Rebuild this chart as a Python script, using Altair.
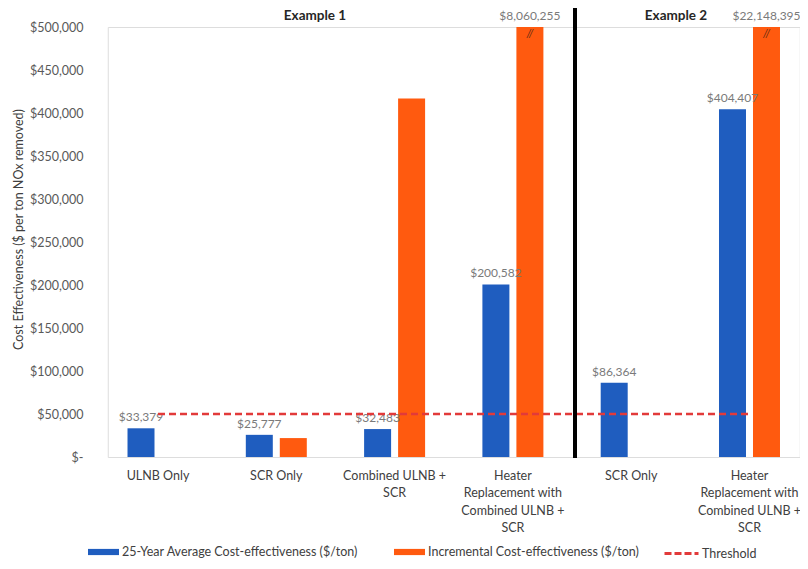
import json
import altair as alt
import pandas as pd

# ---------------- data ----------------
examples = ["Example 1", "Example 1", "Example 1", "Example 1", "Example 2", "Example 2"]
categories = [
    "ULNB Only",
    "SCR Only",
    "Combined ULNB + SCR",
    "Heater Replacement with Combined ULNB + SCR",
    "SCR Only",
    "Heater Replacement with Combined ULNB + SCR",
]
label_lines = [
    ["ULNB Only"],
    ["SCR Only"],
    ["Combined ULNB +", "SCR"],
    ["Heater", "Replacement with", "Combined ULNB +", "SCR"],
    ["SCR Only"],
    ["Heater", "Replacement with", "Combined ULNB +", "SCR"],
]
avg_values = [33379, 25777, 32483, 200582, 86364, 404407]
inc_values = [None, 22000, 417000, 8060255, None, 22148395]
threshold_values = [50000, 50000, 50000, 50000, 50000, 50000]
axis_max = 500000
y_ticks = [0, 50000, 100000, 150000, 200000, 250000, 300000, 350000, 400000, 450000, 500000]

series_names = [
    "25-Year Average Cost-effectiveness ($/ton)",
    "Incremental Cost-effectiveness ($/ton)",
]
threshold_name = "Threshold"
bar_colors = ["#1f5dbf", "#ff5a0f"]
threshold_color = "#e23a3a"
y_title = "Cost Effectiveness ($ per ton NOx removed)"

# ---------------- tables ----------------
keys = [f"{e}|{c}" for e, c in zip(examples, categories)]
rows = []
for k, a, b in zip(keys, avg_values, inc_values):
    for s, v in zip(series_names, [a, b]):
        if v is None:
            continue
        rows.append({"key": k, "series": s, "value": v,
                     "shown": min(v, axis_max), "clipped": v > axis_max})
bars_df = pd.DataFrame(rows)
thr_df = pd.DataFrame({"key": keys, "shown": threshold_values,
                       "name": [threshold_name] * len(keys)})
label_map = json.dumps(dict(zip(keys, label_lines)))

FONT = "Lato"

x_enc = alt.X(
    "key:N",
    title=None,
    scale=alt.Scale(domain=keys, paddingInner=0.4844, paddingOuter=0.167, round=False),
    axis=alt.Axis(labelExpr=f"{label_map}[datum.value]", labelAngle=0,
                  ticks=False, tickSize=0, domain=False, grid=False, labelLimit=0,
                  labelPadding=12, labelFont=FONT, labelFontSize=12.5,
                  labelLineHeight=17.5, labelColor="#404040"),
)
y_enc = alt.Y(
    "shown:Q",
    title=y_title,
    scale=alt.Scale(domain=[0, axis_max], nice=False),
    axis=alt.Axis(values=y_ticks, ticks=False, tickSize=0, domain=False, grid=False,
                  labelExpr="datum.value == 0 ? '$-\u00a0\u00a0' : format(datum.value, '$,')",
                  labelPadding=24.75, labelFont=FONT, labelFontSize=12.5, labelColor="#595959",
                  titleFont=FONT, titleFontSize=12.5, titleFontWeight="normal",
                  titleColor="#404040", titleX=-82.75, titleY=202, titleAlign="center"),
)
xoff_enc = alt.XOffset("series:N",
                       scale=alt.Scale(domain=series_names, paddingInner=0.206, paddingOuter=0,
                                       round=False))

bars = alt.Chart(bars_df).mark_bar().encode(
    x=x_enc, y=y_enc, xOffset=xoff_enc,
    color=alt.Color("series:N", scale=alt.Scale(domain=series_names, range=bar_colors),
                    legend=alt.Legend(title=None, orient="none", legendX=-19.75, legendY=509.5,
                                      direction="horizontal", labelLimit=400,
                                      symbolType="M-1,-0.2H1V0.2H-1Z", symbolSize=961,
                                      symbolStrokeWidth=0, labelOffset=3, columnPadding=35,
                                      labelFont=FONT, labelFontSize=12.5, labelColor="#404040")),
)

labels = alt.Chart(bars_df).transform_filter(
    f"datum.series == '{series_names[0]}' || datum.clipped"
).transform_calculate(
    txt="format(datum.value, '$,')"
).mark_text(baseline="middle", dy=-11, font=FONT, fontSize=12, color="#7a7a7a").encode(
    x=x_enc, y=y_enc, xOffset=xoff_enc, text="txt:N"
)

breaks = alt.Chart(bars_df).transform_filter("datum.clipped").mark_text(
    text="//", baseline="middle", dy=7, font=FONT, fontSize=11, fontStyle="italic", color="#5a2a14"
).encode(x=x_enc, y=y_enc, xOffset=xoff_enc)

threshold = alt.Chart(thr_df).mark_line(strokeDash=[7, 4], strokeWidth=2.5).encode(
    x=x_enc, y=y_enc,
    stroke=alt.Stroke("name:N", scale=alt.Scale(domain=[threshold_name], range=[threshold_color]),
                      legend=alt.Legend(title=None, orient="none", legendX=555.25, legendY=508,
                                        symbolType="stroke", symbolSize=1156, symbolStrokeWidth=3,
                                        symbolDash=[7, 3], labelOffset=2, labelLimit=200,
                                        labelFont=FONT, labelFontSize=12.5, labelColor="#404040")),
)

one = pd.DataFrame({"a": [0]})
separator = alt.Chart(one).mark_rule(color="black", strokeWidth=4).encode(
    x=alt.value(467.25), y=alt.value(-19), y2=alt.value(431)
)
title1 = alt.Chart(one).mark_text(font=FONT, fontSize=13.5, fontWeight="bold", color="#262626",
                                  baseline="middle").encode(
    x=alt.value(207.25), y=alt.value(-11), text=alt.value(examples[0]))
title2 = alt.Chart(one).mark_text(font=FONT, fontSize=13.5, fontWeight="bold", color="#262626",
                                  baseline="middle").encode(
    x=alt.value(568.25), y=alt.value(-11), text=alt.value(examples[4]))

chart = alt.layer(bars, labels, breaks, threshold, separator, title1, title2).resolve_scale(
    color="independent"
).properties(
    width=692, height=430,
    autosize=alt.AutoSizeParams(type="none"),
    padding={"left": 99.75, "top": 19, "right": 0, "bottom": 104},
).configure_view(stroke=None).configure(font=FONT, background="white")

chart.save("out.html", embed_options={"renderer": "svg", "actions": False})
